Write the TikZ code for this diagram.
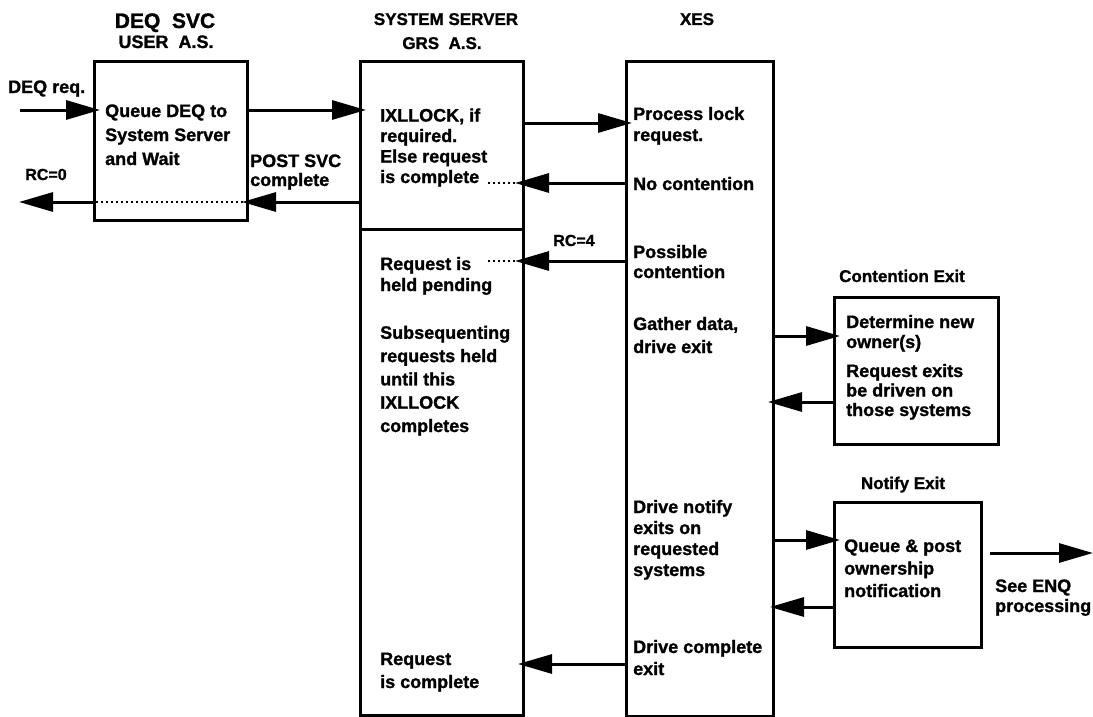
\documentclass[tikz,border=0pt]{standalone}
\usepackage{fontspec}
\setmainfont{Liberation Sans}[BoldFeatures={FakeBold=1.2}]
\usetikzlibrary{arrows.meta}

\begin{document}
\begin{tikzpicture}[
    x=1pt, y=-1pt,
    every node/.style={font=\bfseries\fontsize{18}{21}\selectfont, inner sep=0pt},
    box/.style={draw, line width=3pt, anchor=north west},
    txt/.style={anchor=base west, align=left},
    head/.style={anchor=base, font=\bfseries\fontsize{17}{20}\selectfont},
    small/.style={anchor=base, font=\bfseries\fontsize{16}{19}\selectfont},
    flow/.style={-{Triangle[length=34pt,width=19pt]}, line width=3pt, shorten >=-7pt},
    dots/.style={line width=2.5pt, dash pattern=on 2.5pt off 2.5pt}
]
\useasboundingbox (0,0) rectangle (1093,717);

% column headings
\node[head, font=\bfseries\fontsize{21}{24}\selectfont] (deqhead) at (165,28) {DEQ\ \ SVC};
\node[head, font=\bfseries\fontsize{18}{21}\selectfont] (userhead) at (166,48) {USER\ \ A.S.};
\node[head] (sshead) at (446,25) {SYSTEM SERVER};
\node[head] (grshead) at (442,49) {GRS\ \ A.S.};
\node[head] (xeshead) at (697,25) {XES};
\node[head] (conthead) at (902,282) {Contention Exit};
\node[head] (notehead) at (903,489) {Notify Exit};

% boxes
\node[box, minimum width=153pt, minimum height=159pt] (deq) at (93,60) {};
\node[box, minimum width=163pt, minimum height=168pt] (sstop) at (359,60) {};
\node[box, minimum width=163pt, minimum height=486pt] (sslow) at (359,228) {};
\node[box, minimum width=147pt, minimum height=655pt] (xes) at (625,60) {};
\node[box, minimum width=164pt, minimum height=147pt] (cont) at (833,296) {};
\node[box, minimum width=147pt, minimum height=145pt] (notify) at (833,501) {};

% texts in the boxes (placed at the baseline of their last line)
\node[txt, font=\bfseries\fontsize{18}{24}\selectfont] (queuetxt) at (105,165) {Queue DEQ to\\System Server\\and Wait};
\node[txt, font=\bfseries\fontsize{18}{20.5}\selectfont] (locktxt) at (380,183) {IXLLOCK, if\\required.\\Else request\\is complete};
\node[txt] (heldtxt) at (380,291) {Request is\\held pending};
\node[txt, font=\bfseries\fontsize{18}{23.3}\selectfont] (subtxt) at (380,432) {Subsequenting\\requests held\\until this\\IXLLOCK\\completes};
\node[txt, font=\bfseries\fontsize{18}{23}\selectfont] (donetxt) at (380,688) {Request\\is complete};
\node[txt] (proctxt) at (633,141) {Process lock\\request.};
\node[txt] (nocontxt) at (633,190) {No contention};
\node[txt, font=\bfseries\fontsize{18}{20}\selectfont] (posstxt) at (633,278) {Possible\\contention};
\node[txt, font=\bfseries\fontsize{18}{23}\selectfont] (gathtxt) at (633,353) {Gather data,\\drive exit};
\node[txt] (drivetxt) at (633,576) {Drive notify\\exits on\\requested\\systems};
\node[txt, font=\bfseries\fontsize{18}{22}\selectfont] (comptxt) at (633,675) {Drive complete\\exit};
\node[txt, font=\bfseries\fontsize{18}{20}\selectfont] (ownertxt) at (846,348) {Determine new\\owner(s)};
\node[txt, font=\bfseries\fontsize{18}{19.5}\selectfont] (exitstxt) at (846,416) {Request exits\\be driven on\\those systems};
\node[txt, font=\bfseries\fontsize{18}{22.5}\selectfont] (posttxt) at (844,597) {Queue \& post\\ownership\\notification};

% labels on the arrows
\node[txt] (reqlbl) at (8,93) {DEQ req.};
\node[small] (rc0lbl) at (46,180) {RC=0};
\node[txt, font=\bfseries\fontsize{18}{19}\selectfont] (postlbl) at (250,186) {POST SVC\\complete};
\node[small] (rc4lbl) at (574,246) {RC=4};
\node[txt, font=\bfseries\fontsize{18}{20}\selectfont] (enqlbl) at (995,612) {See ENQ\\processing};

\coordinate (reqin) at (20,110);
\coordinate (rcout) at (19,202);
\coordinate (enqout) at (1086,553);

% connectors
\draw[flow] (reqin) -- (deq.west |- reqin);
\draw[flow] (deq.east |- 0,110) -- (sstop.west |- 0,110);
\draw[flow] (sstop.east |- 0,123) -- (xes.west |- 0,123);
\draw[flow, shorten >=-10pt] (xes.west |- 0,183) -- (sstop.east |- 0,183);
\draw[dots] (sstop.east |- 0,183) ++(-10,0) -- ++(-27,0);
\draw[flow] (sstop.west |- 0,202) -- (deq.east |- 0,202);
\draw[dots] (deq.east |- 0,202) ++(-6,0) -- (deq.west |- 0,202);
\draw[flow, shorten >=0pt] (deq.west |- rcout) -- (rcout);
\draw[flow, shorten >=-10pt] (xes.west |- 0,261) -- (sslow.east |- 0,261);
\draw[dots] (sslow.east |- 0,261) ++(-10,0) -- ++(-28,0);
\draw[flow] (xes.east |- 0,336) -- (cont.west |- 0,336);
\draw[flow] (cont.west |- 0,402) -- (xes.east |- 0,402);
\draw[flow] (xes.east |- 0,540) -- (notify.west |- 0,540);
\draw[flow, shorten >=-5pt] (notify.west |- 0,607) -- (xes.east |- 0,607);
\draw[flow] (notify.east |- enqout) ++(7,0) -- (enqout);
\draw[flow] (xes.west |- 0,664) -- (sslow.east |- 0,664);
\end{tikzpicture}
\end{document}
